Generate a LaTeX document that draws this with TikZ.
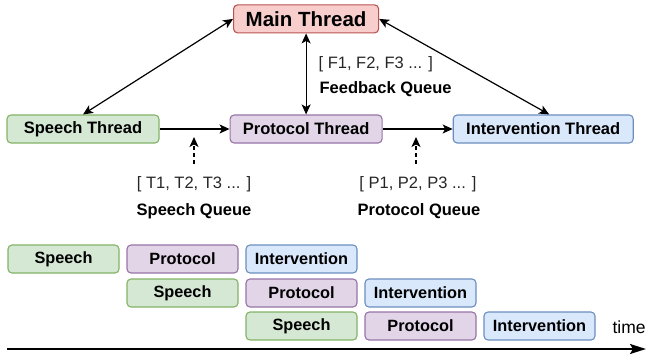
\documentclass[tikz,border=0pt]{standalone}
\usepackage{fontspec}
\setmainfont{Liberation Sans}
\usetikzlibrary{positioning,arrows.meta}
\definecolor{speechfill}{HTML}{D5E8D4}
\definecolor{speechline}{HTML}{82B366}
\definecolor{protocolfill}{HTML}{E1D5E7}
\definecolor{protocolline}{HTML}{9673A6}
\definecolor{interventionfill}{HTML}{DAE8FC}
\definecolor{interventionline}{HTML}{6C8EBF}
\definecolor{mainfill}{HTML}{F8CECC}
\definecolor{mainline}{HTML}{B85450}
\tikzstyle{thread}=[draw,rounded corners=4pt,line width=1.1pt,minimum height=28pt,inner sep=0pt,font=\bfseries\fontsize{16.5}{19}\selectfont]
\tikzstyle{job}=[draw,rounded corners=4pt,line width=1.1pt,minimum width=111pt,minimum height=28pt,inner sep=0pt,outer sep=0pt,font=\bfseries\fontsize{16.3}{19}\selectfont]
\tikzstyle{speech}=[fill=speechfill,draw=speechline]
\tikzstyle{protocol}=[fill=protocolfill,draw=protocolline]
\tikzstyle{intervention}=[fill=interventionfill,draw=interventionline]
\tikzstyle{mainthread}=[fill=mainfill,draw=mainline]
\tikzstyle{queue}=[inner sep=0pt,text=black!85,font=\fontsize{16.5}{19}\selectfont]
\tikzstyle{queuename}=[inner sep=0pt,font=\bfseries\fontsize{16.5}{19}\selectfont]

\begin{document}
\begin{tikzpicture}[x=1pt,y=-1pt,line width=1.2pt,>={Stealth[length=10pt,width=9pt,inset=2.5pt]}]
    \useasboundingbox (0,0) rectangle (646,356);

          \node[thread,speech,minimum width=152pt]       (speech)                            at (83,129) {Speech Thread};
          \node[thread,protocol,minimum width=152pt]     (protocol)     [right=70pt of speech]           {Protocol Thread};
          \node[thread,intervention,minimum width=180pt] (intervention) [right=70pt of protocol]         {Intervention Thread};
          \node[thread,mainthread,minimum width=145pt,font=\bfseries\fontsize{20.5}{24}\selectfont]
                                                         (main)         [above=81pt of protocol]         {Main Thread};

          \path[<->] (main.west) edge (speech.north)
                     (main.east) edge ([xshift=6pt]intervention.north)
                     (main)      edge (protocol);
          \path[->]  (speech)    edge (protocol)
                     (protocol)  edge (intervention);

          % queues
          \node[queue]     (tlist) at (194,184) {[ T1, T2, T3 ... ]};
          \node[queuename] (tname) at (194,211) {Speech Queue};
          \node[queue]     (plist) at (418,184) {[ P1, P2, P3 ... ]};
          \node[queuename] (pname) at (419,211) {Protocol Queue};
          \node[queue,anchor=west]     (flist) at (318,64) {[ F1, F2, F3 ... ]};
          \node[queuename,anchor=west] (fname) at (319,89) {Feedback Queue};

          \coordinate (tfoot) at (194,164);
          \coordinate (ttip)  at (194,137);
          \coordinate (pfoot) at (416,164);
          \coordinate (ptip)  at (416,137);
          \draw[->,dash pattern=on 4pt off 3pt] (tfoot) -- (ttip);
          \draw[->,dash pattern=on 4pt off 3pt] (pfoot) -- (ptip);

          % pipeline over time
          \node[job,speech]       (s1) at (63.5,259)       {Speech};
          \node[job,protocol]     (p1) [right=8pt of s1]  {Protocol};
          \node[job,intervention] (i1) [right=8pt of p1]  {Intervention};
          \node[job,speech]       (s2) [below=6pt of p1]  {Speech};
          \node[job,protocol]     (p2) [below=6pt of i1]  {Protocol};
          \node[job,intervention] (i2) [right=8pt of p2]  {Intervention};
          \node[job,speech]       (s3) [below=5pt of p2]  {Speech};
          \node[job,protocol]     (p3) [below=5pt of i2]  {Protocol};
          \node[job,intervention] (i3) [right=8pt of p3]  {Intervention};

          \node[anchor=west,inner sep=0pt,font=\fontsize{17.5}{20}\selectfont] (time) at (612,327) {time};
          \coordinate (t0) at (7,349);
          \coordinate (t1) at (646,349);
          \draw[-{Stealth[length=16pt,width=10pt,inset=3pt]},line width=2pt] (t0) -- (t1);
        \end{tikzpicture}
\end{document}
